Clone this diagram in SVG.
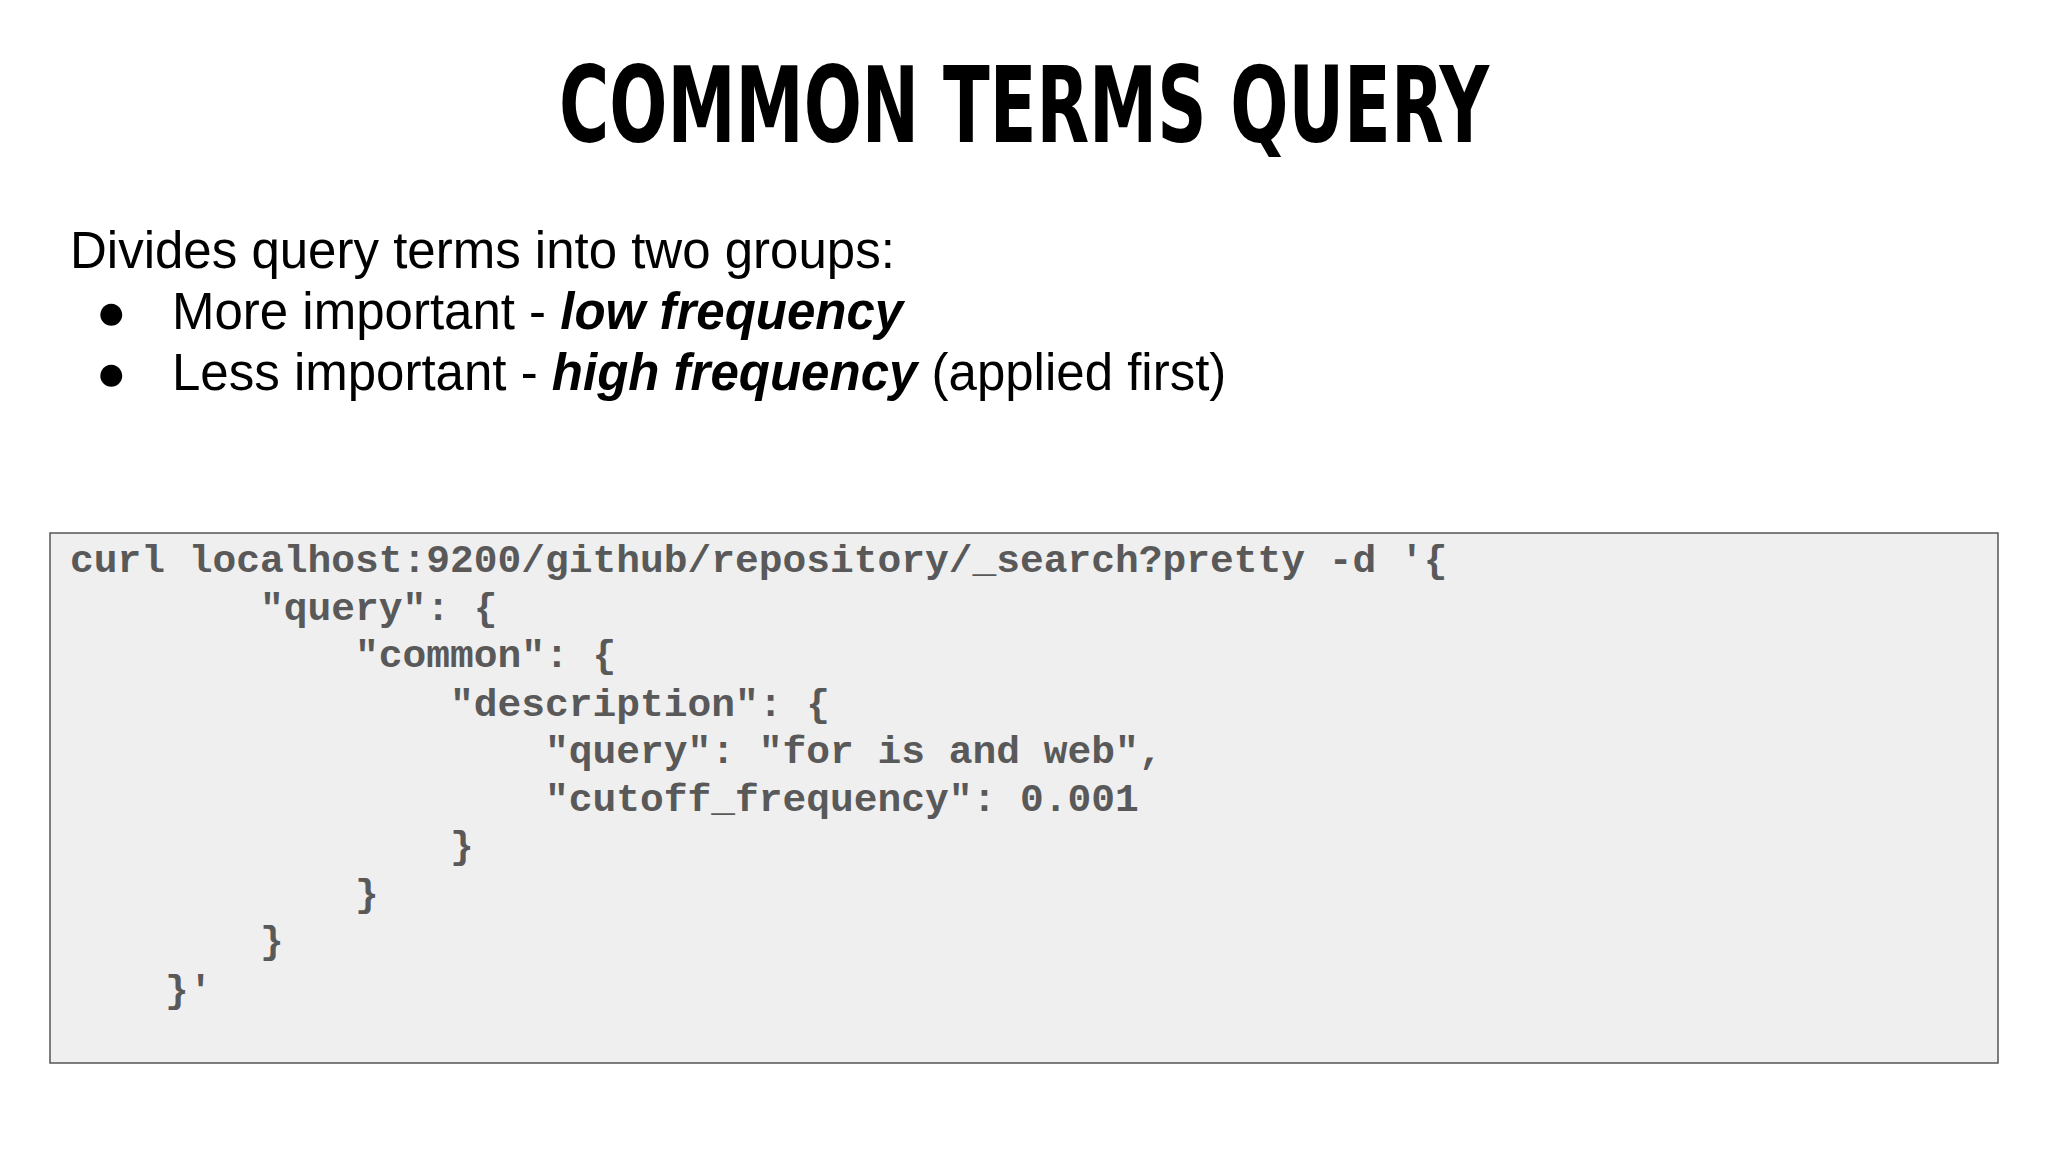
<svg xmlns="http://www.w3.org/2000/svg" width="2048" height="1152" viewBox="0 0 2048 1152">
<style>
.t{font-family:"DejaVu Sans Condensed","DejaVu Sans",sans-serif;font-weight:bold;font-size:106px;fill:#000}
.b{font-family:"Liberation Sans",Arial,sans-serif;font-size:51px;fill:#000}
.c{font-family:"Liberation Mono","Courier New",monospace;font-weight:bold;font-size:39.6px;fill:#595959;white-space:pre}
</style>
<rect width="2048" height="1152" fill="#fff"/>
<g id="title"><text class="t" x="1024" y="142" text-anchor="middle" textLength="930" lengthAdjust="spacingAndGlyphs">COMMON TERMS QUERY</text></g>
<g id="body">
<text class="b" x="70" y="268">Divides query terms into two groups:</text>
<text class="b" x="96" y="329">●</text>
<text class="b" x="172" y="329">More important - <tspan font-weight="bold" font-style="italic">low frequency</tspan></text>
<text class="b" x="96" y="390">●</text>
<text class="b" x="172" y="390">Less important - <tspan font-weight="bold" font-style="italic">high frequency</tspan> (applied first)</text>
</g>
<g id="code">
<rect x="50" y="533" width="1948" height="530" fill="#efefef" stroke="#555" stroke-width="1.5"/>
<text class="c" xml:space="preserve" x="70" y="572">curl localhost:9200/github/repository/_search?pretty -d '{</text>
<text class="c" xml:space="preserve" x="70" y="620">        "query": {</text>
<text class="c" xml:space="preserve" x="70" y="667">            "common": {</text>
<text class="c" xml:space="preserve" x="70" y="716">                "description": {</text>
<text class="c" xml:space="preserve" x="70" y="763">                    "query": "for is and web",</text>
<text class="c" xml:space="preserve" x="70" y="811">                    "cutoff_frequency": 0.001</text>
<text class="c" xml:space="preserve" x="70" y="858">                }</text>
<text class="c" xml:space="preserve" x="70" y="906">            }</text>
<text class="c" xml:space="preserve" x="70" y="953">        }</text>
<text class="c" xml:space="preserve" x="70" y="1002">    }'</text>
</g>
</svg>
